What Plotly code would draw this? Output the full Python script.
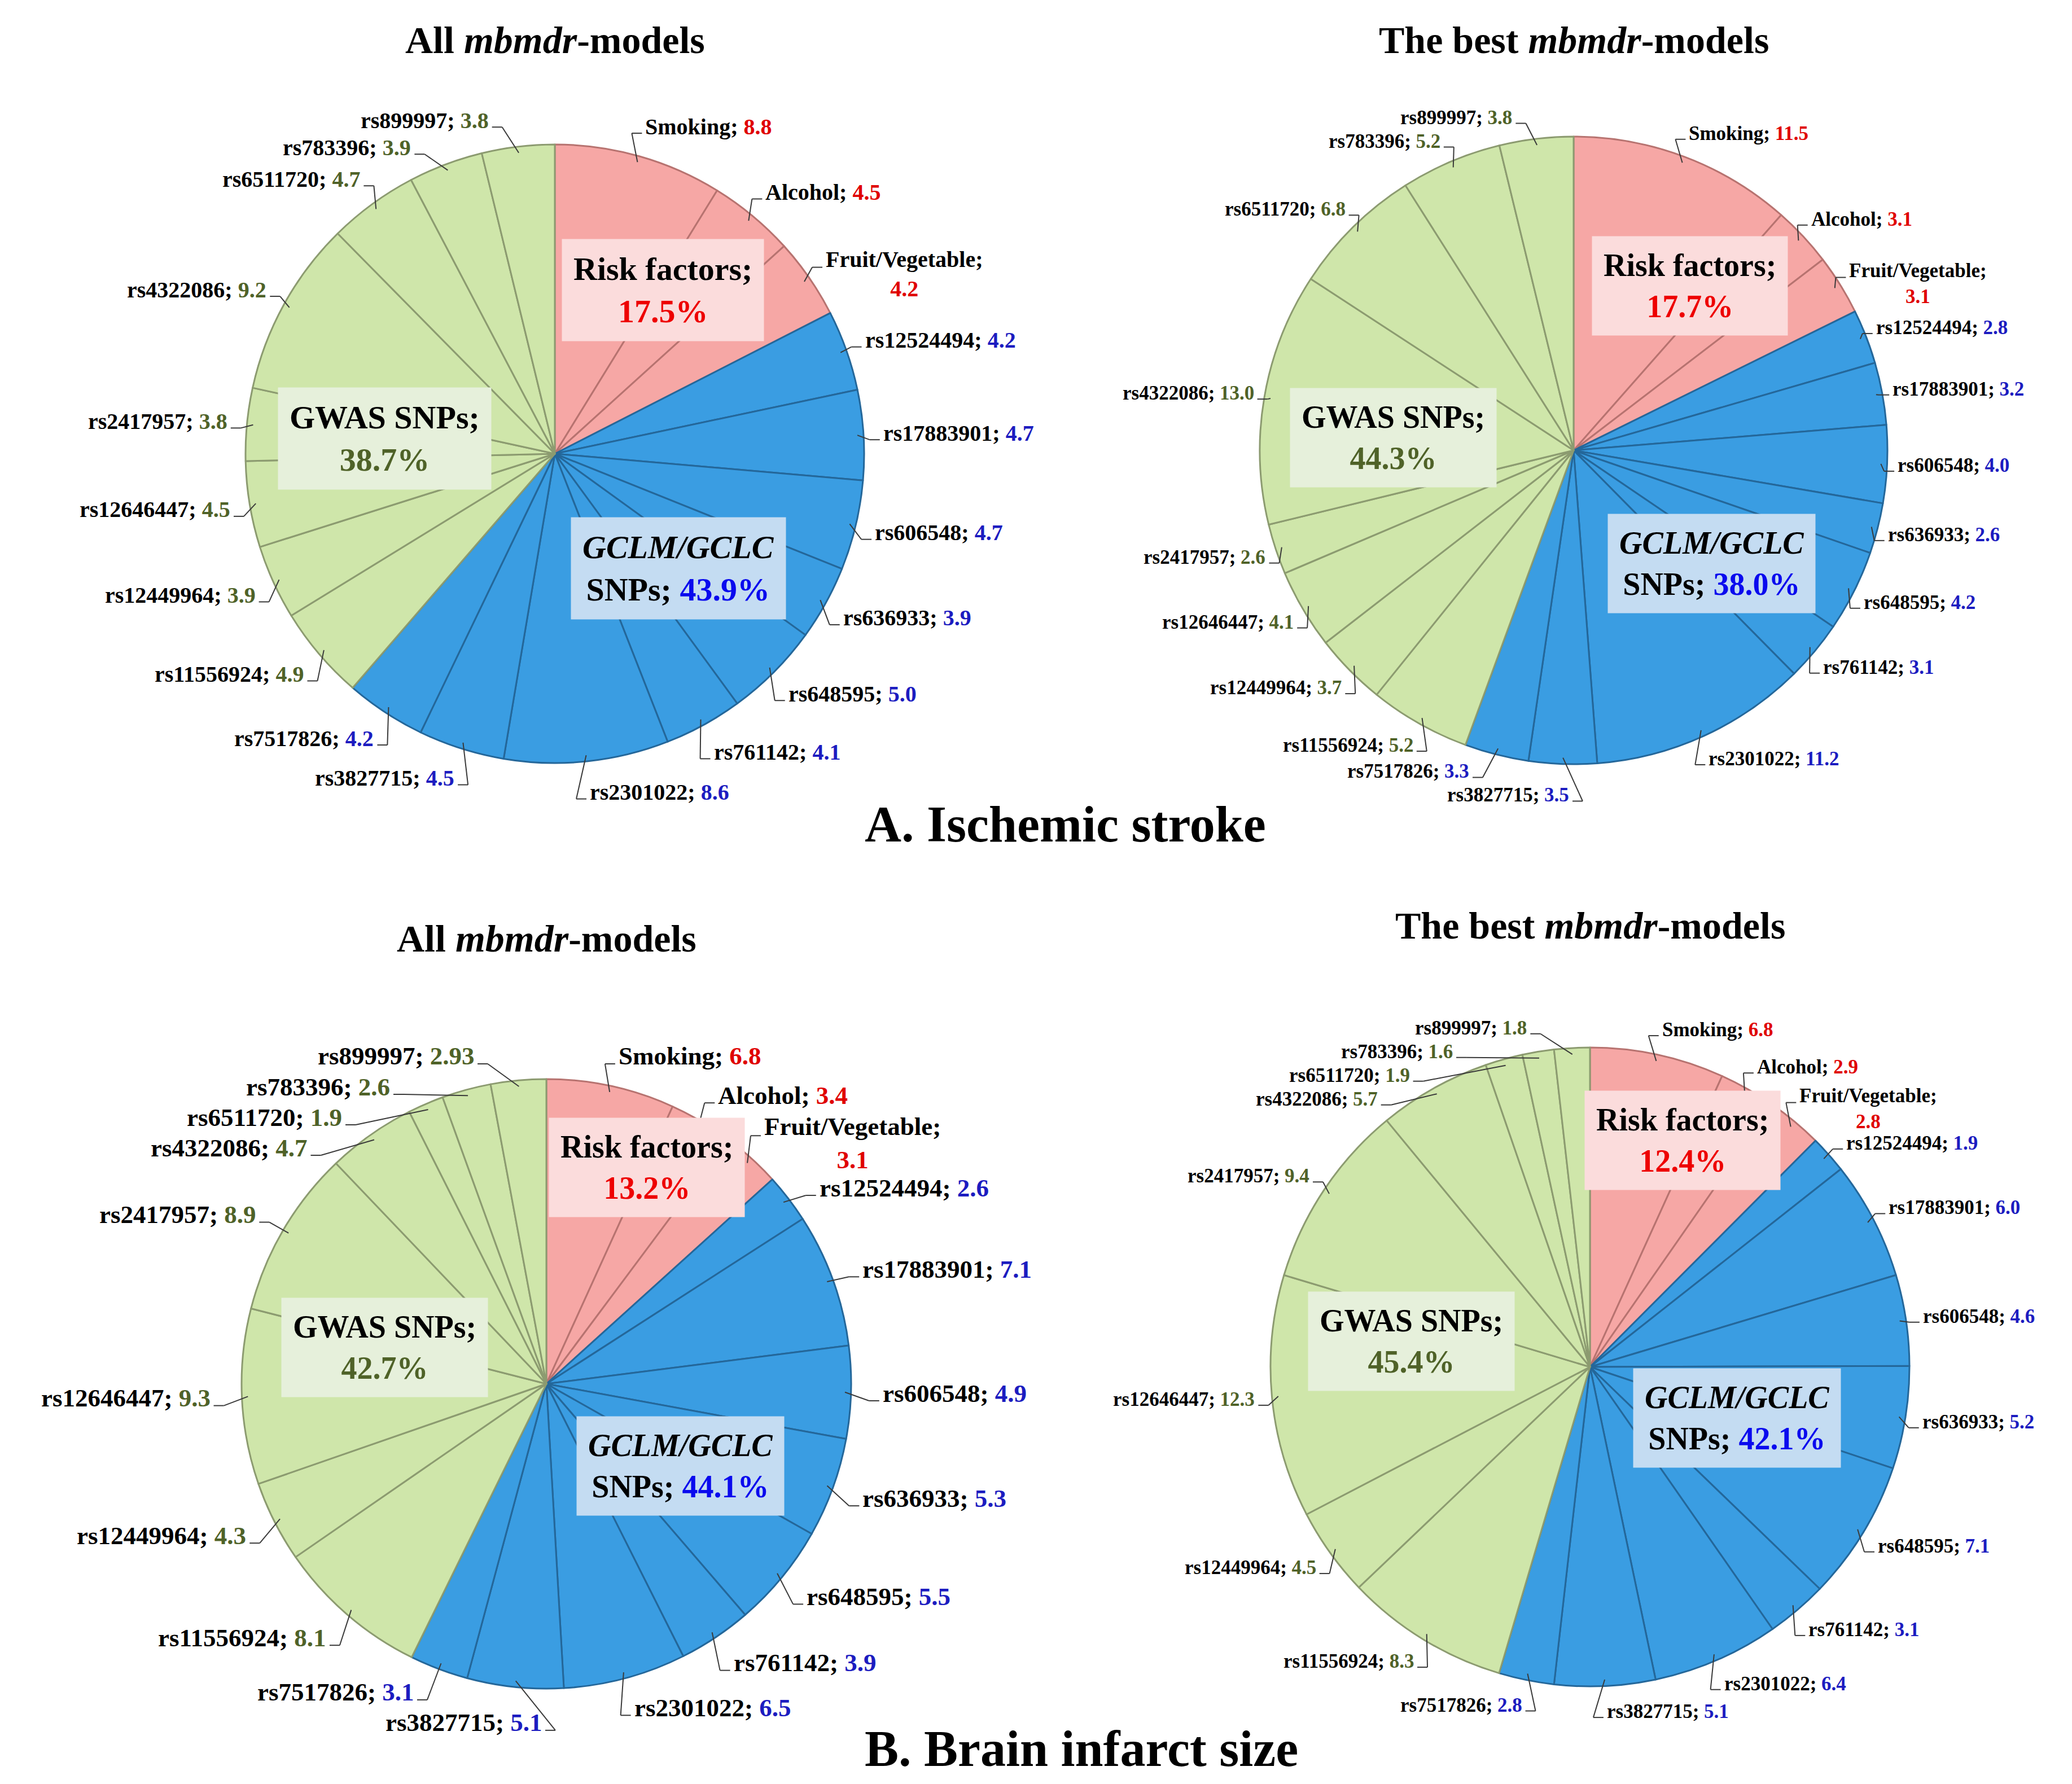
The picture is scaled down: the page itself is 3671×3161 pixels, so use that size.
import math
import plotly.graph_objects as go

W, H = 3671, 3161

# ---------------- data ----------------
categories = ["Smoking", "Alcohol", "Fruit/Vegetable",
              "rs12524494", "rs17883901", "rs606548", "rs636933", "rs648595",
              "rs761142", "rs2301022", "rs3827715", "rs7517826",
              "rs11556924", "rs12449964", "rs12646447", "rs2417957",
              "rs4322086", "rs6511720", "rs783396", "rs899997"]
groups = ["risk"] * 3 + ["gclm"] * 9 + ["gwas"] * 8

values_stroke_all = [8.8, 4.5, 4.2, 4.2, 4.7, 4.7, 3.9, 5.0, 4.1, 8.6, 4.5, 4.2,
                     4.9, 3.9, 4.5, 3.8, 9.2, 4.7, 3.9, 3.8]
values_stroke_best = [11.5, 3.1, 3.1, 2.8, 3.2, 4.0, 2.6, 4.2, 3.1, 11.2, 3.5, 3.3,
                      5.2, 3.7, 4.1, 2.6, 13.0, 6.8, 5.2, 3.8]
values_infarct_all = [6.8, 3.4, 3.1, 2.6, 7.1, 4.9, 5.3, 5.5, 3.9, 6.5, 5.1, 3.1,
                      8.1, 4.3, 9.3, 8.9, 4.7, 1.9, 2.6, 2.93]
values_infarct_best = [6.8, 2.9, 2.8, 1.9, 6.0, 4.6, 5.2, 7.1, 3.1, 6.4, 5.1, 2.8,
                       8.3, 4.5, 12.3, 9.4, 5.7, 1.9, 1.6, 1.8]

# group totals: risk factors, GWAS SNPs, GCLM/GCLC SNPs
totals_stroke_all = [17.5, 38.7, 43.9]
totals_stroke_best = [17.7, 44.3, 38.0]
totals_infarct_all = [13.2, 42.7, 44.1]
totals_infarct_best = [12.4, 45.4, 42.1]

panel_titles = ["All <i>mbmdr</i>-models", "The best <i>mbmdr</i>-models",
                "All <i>mbmdr</i>-models", "The best <i>mbmdr</i>-models"]
section_titles = ["A. Ischemic stroke", "B. Brain infarct size"]

# ---------------- styles ----------------
FONT = "Liberation Serif, Times New Roman, serif"
slice_fill = {"risk": "#f6a7a5", "gclm": "#3a9de2", "gwas": "#cfe6aa"}
slice_edge = {"risk": "#b77370", "gclm": "#24679a", "gwas": "#8c9b70"}
value_color = {"risk": "#e00000", "gclm": "#1c1cc0", "gwas": "#4f6228"}
box_bg = {"risk": "#fbdcdc", "gclm": "#c4dcf2", "gwas": "#e6f0db"}
big_color = {"risk": "#ee0000", "gclm": "#0a0aee", "gwas": "#4f6228"}

layouts = [
    dict(vals=values_stroke_all, tot=totals_stroke_all, cx=975, cy=796, r=548,
         fs=40, kx=1.06, ky=1.10, title_y=63, boxfs=58,
         boxes={"risk": (0.35, -0.53), "gwas": (-0.55, -0.05), "gclm": (0.40, 0.37)}),
    dict(vals=values_stroke_best, tot=totals_stroke_best, cx=2780, cy=790, r=556,
         fs=35, kx=1.03, ky=1.08, title_y=63, boxfs=56,
         boxes={"risk": (0.37, -0.525), "gwas": (-0.575, -0.04), "gclm": (0.44, 0.36)}),
    dict(vals=values_infarct_all, tot=totals_infarct_all, cx=960, cy=2444, r=540,
         fs=45, kx=1.10, ky=1.10, title_y=1655, boxfs=56,
         boxes={"risk": (0.33, -0.71), "gwas": (-0.53, -0.12), "gclm": (0.44, 0.27)}),
    dict(vals=values_infarct_best, tot=totals_infarct_best, cx=2809, cy=2414, r=566,
         fs=35, kx=1.05, ky=1.08, title_y=1632, boxfs=56,
         boxes={"risk": (0.29, -0.71), "gwas": (-0.56, -0.08), "gclm": (0.46, 0.16)}),
]


def fmt(v):
    s = f"{v:.2f}"
    return s[:-1] if s.endswith("0") else s


def px2paper(x, y):
    return x / W, 1 - y / H


def spread(items, lo, hi):
    """Push label centres apart vertically (1-D cluster relaxation)."""
    items = sorted(items, key=lambda d: d["yc"])
    clusters = [[it] for it in items]

    def place(cl):
        offs, acc = [], 0.0
        for it in cl:
            offs.append(acc + it["h"] / 2)
            acc += it["h"]
        top = sum(it["yc"] - o for it, o in zip(cl, offs)) / len(cl)
        top = min(max(top, lo), hi - acc)
        for it, o in zip(cl, offs):
            it["ya"] = top + o
        return top, acc

    changed = True
    while changed:
        changed = False
        pos = [place(c) for c in clusters]
        for i in range(len(clusters) - 1):
            t0, h0 = pos[i]
            t1, _ = pos[i + 1]
            if t1 < t0 + h0 - 1e-6:
                clusters[i] = clusters[i] + clusters[i + 1]
                del clusters[i + 1]
                changed = True
                break
    for c in clusters:
        place(c)
    return items


fig = go.Figure()
annotations = []
shapes = []

for k, L in enumerate(layouts):
    cx, cy, r, fs = L["cx"], L["cy"], L["r"], L["fs"]
    kx, ky = L["kx"], L["ky"]
    x0, y0 = px2paper(cx - r, cy + r)
    x1, y1 = px2paper(cx + r, cy - r)
    fig.add_trace(go.Pie(
        labels=categories, values=L["vals"], sort=False, direction="clockwise",
        rotation=0, textinfo="none", hoverinfo="label+value",
        marker=dict(colors=[slice_fill[g] for g in groups],
                    line=dict(color=[slice_edge[g] for g in groups], width=3)),
        domain=dict(x=[x0, x1], y=[y0, y1]), showlegend=False,
    ))

    total = sum(L["vals"])
    cum = 0.0
    items = []
    for name, v, g in zip(categories, L["vals"], groups):
        mid = (cum + v / 2) / total * 2 * math.pi
        cum += v
        s, c = math.sin(mid), math.cos(mid)
        two = name == "Fruit/Vegetable"
        py = cy - r * ky * c
        items.append(dict(name=name, v=v, g=g, s=s, c=c, two=two,
                          side=1 if s >= 0 else -1,
                          yc=py + (0.6 * fs if two else 0.0),
                          h=fs * (2.3 if two else 1.2)))

    lo = cy - ky * r - 0.3 * fs
    hi = cy + ky * r + 0.9 * fs
    for side in (1, -1):
        spread([it for it in items if it["side"] == side], lo, hi)

    for it in items:
        side, s, c = it["side"], it["s"], it["c"]
        yl = it["ya"] - (0.6 * fs if it["two"] else 0.0)   # first text line
        dy = (yl - cy) / (ky * r)
        if abs(dy) < 1:
            px = cx + side * kx * r * math.sqrt(1 - dy * dy)
        else:
            px = cx + side * 6
        ex, ey = cx + r * 0.98 * s, cy - r * 0.98 * c
        by = yl + fs * 0.3
        sx = px - side * 22
        a = px2paper(ex, ey); b = px2paper(sx, by); e = px2paper(px - side * 4, by)
        shapes.append(dict(type="line", xref="paper", yref="paper",
                           x0=a[0], y0=a[1], x1=b[0], y1=b[1],
                           line=dict(color="#3a3a3a", width=2)))
        shapes.append(dict(type="line", xref="paper", yref="paper",
                           x0=b[0], y0=b[1], x1=e[0], y1=e[1],
                           line=dict(color="#3a3a3a", width=2)))
        vc = value_color[it["g"]]
        if it["two"]:
            txt = f"{it['name']};<br><span style='color:{vc}'>{fmt(it['v'])}</span>"
        else:
            txt = f"{it['name']}; <span style='color:{vc}'>{fmt(it['v'])}</span>"
        p = px2paper(px, it["ya"])
        annotations.append(dict(
            x=p[0], y=p[1], xref="paper", yref="paper", showarrow=False,
            xanchor="left" if side > 0 else "right", yanchor="middle",
            align="center", text=f"<b>{txt}</b>",
            font=dict(family=FONT, size=fs, color="#000000")))

    # group boxes
    tr, tg, tc = L["tot"]
    box_text = {
        "risk": f"Risk factors;<br><span style='color:{big_color['risk']}'>{tr:.1f}%</span>",
        "gwas": f"GWAS SNPs;<br><span style='color:{big_color['gwas']}'>{tg:.1f}%</span>",
        "gclm": f"<i>GCLM/GCLC</i><br>SNPs; <span style='color:{big_color['gclm']}'>{tc:.1f}%</span>",
    }
    for g, (ox, oy) in L["boxes"].items():
        p = px2paper(cx + ox * r, cy + oy * r)
        annotations.append(dict(
            x=p[0], y=p[1], xref="paper", yref="paper", showarrow=False,
            xanchor="center", yanchor="middle", align="center",
            text=f"<b>{box_text[g]}</b>", bgcolor=box_bg[g], borderpad=20,
            font=dict(family=FONT, size=L["boxfs"], color="#000000")))

    # panel title
    p = px2paper(cx, L["title_y"])
    annotations.append(dict(
        x=p[0], y=p[1], xref="paper", yref="paper", showarrow=False,
        xanchor="center", yanchor="middle", text=f"<b>{panel_titles[k]}</b>",
        font=dict(family=FONT, size=68, color="#000000")))

for t, (sx, sy) in zip(section_titles, [(1880, 1452), (1908, 3090)]):
    p = px2paper(sx, sy)
    annotations.append(dict(
        x=p[0], y=p[1], xref="paper", yref="paper", showarrow=False,
        xanchor="center", yanchor="middle", text=f"<b>{t}</b>",
        font=dict(family=FONT, size=90, color="#000000")))

fig.update_layout(
    width=W, height=H, margin=dict(l=0, r=0, t=0, b=0),
    paper_bgcolor="white", plot_bgcolor="white",
    annotations=annotations, shapes=shapes, showlegend=False,
)

fig.write_html("out.html")
